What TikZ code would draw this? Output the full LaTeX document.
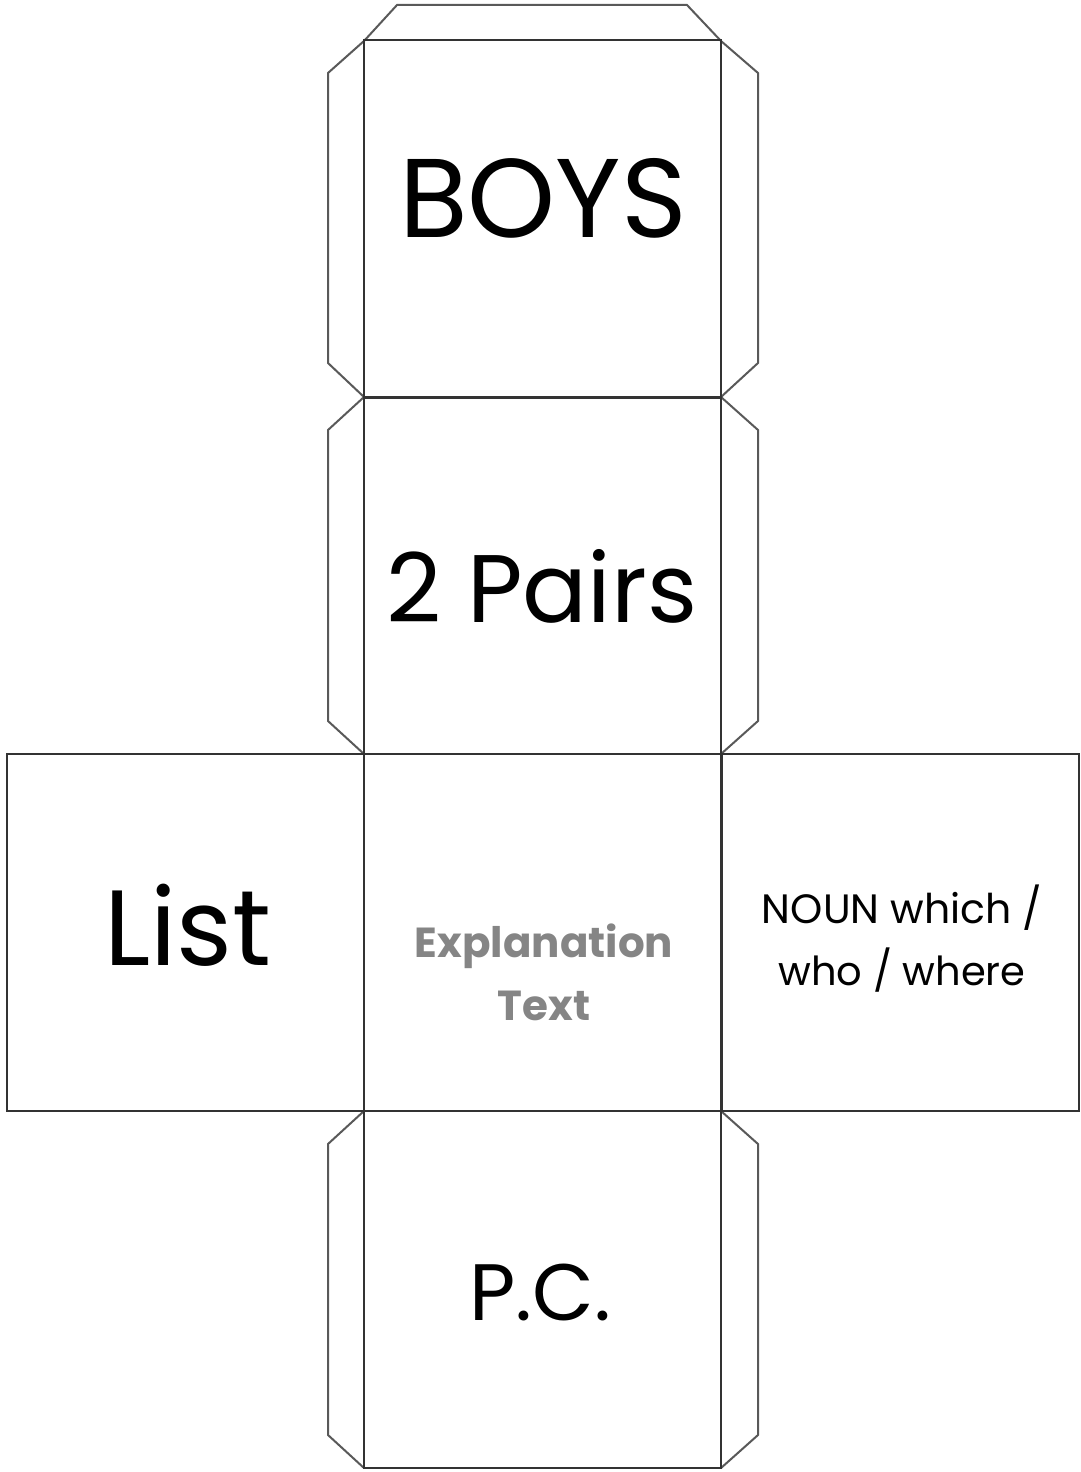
\documentclass[tikz,border=0pt]{standalone}
\usepackage{fontspec}
\setmainfont{Poppins}
\begin{document}
\begin{tikzpicture}[x=1pt,y=-1pt,
  face/.style={draw=black!80,line width=2pt,minimum width=357pt,minimum height=357pt,inner sep=0pt,outer sep=0pt},
  tab/.style={draw=black!65,line width=2pt,line join=miter},
  big/.style={font=\fontsize{112}{120}\selectfont,anchor=base,inner sep=0pt},
  small/.style={font=\fontsize{41}{48}\selectfont,anchor=base,inner sep=0pt},
  grey/.style={font=\fontsize{42}{48}\selectfont\bfseries,text=black!48,anchor=base,inner sep=0pt}]
\useasboundingbox (0,0) rectangle (1081,1472);
% tabs
\draw[tab] (364,41) -- (397,5) -- (687,5) -- (721,41);
\draw[tab] (364,41) -- (328,73) -- (328,363) -- (364,397);
\draw[tab] (721,41) -- (758,73) -- (758,363) -- (721,397);
\draw[tab] (364,397) -- (328,430) -- (328,721) -- (364,754);
\draw[tab] (721,397) -- (758,430) -- (758,721) -- (721,754);
\draw[tab] (364,1111) -- (328,1144) -- (328,1435) -- (364,1468);
\draw[tab] (721,1111) -- (758,1144) -- (758,1435) -- (721,1468);
% faces
\node[face] (top) at (542.5,219) {};
\node[face] (second) at (542.5,575.5) {};
\node[face] (middle) at (542.5,932.5) {};
\node[face] (left) at (185.5,932.5) {};
\node[face] (right) at (900,932.5) {};
\node[face] (bottom) at (542.5,1289.5) {};
% texts
\node[big] (boys) at (543,237) {BOYS};
\node[big,font=\fontsize{96}{104}\selectfont] (pairs) at (542,622) {2 Pairs};
\node[big,font=\fontsize{107}{114}\selectfont] (list) at (188,965) {List};
\node[big,font=\fontsize{80}{90}\selectfont] (pc) at (540,1320) {P.C.};
\node[grey] (expl) at (544,957) {Explanation};
\node[grey] (text) at (544,1020) {Text};
\node[small] (noun) at (902,923) {NOUN which /};
\node[small,font=\fontsize{40}{48}\selectfont] (who) at (902,985) {who / where};
\end{tikzpicture}
\end{document}
